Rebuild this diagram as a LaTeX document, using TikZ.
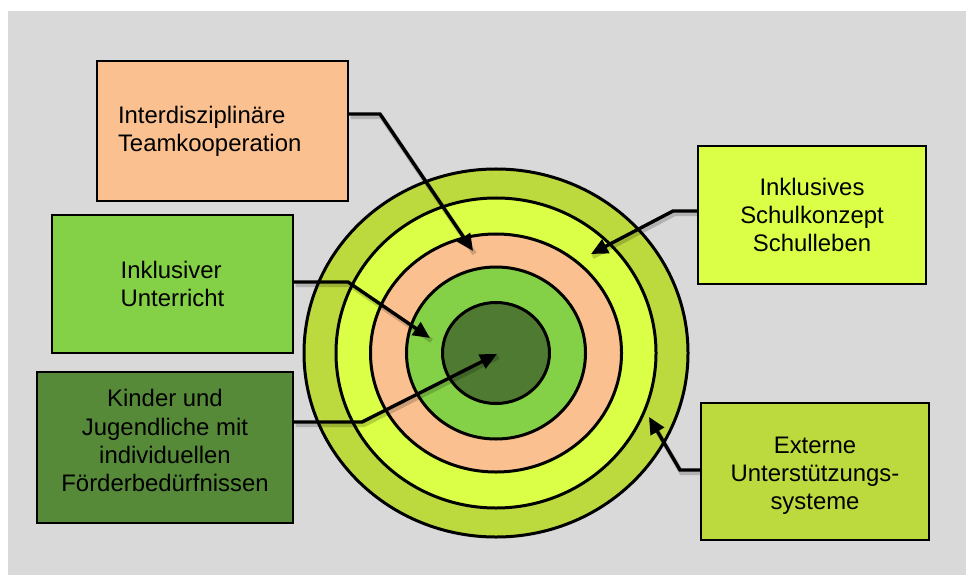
\documentclass[tikz,border=0pt]{standalone}
\usepackage{fontspec}
\setmainfont{Liberation Sans}
\usepackage{xcolor}
\usepackage{tikz}
\usetikzlibrary{arrows.meta,positioning,shapes.geometric}

\definecolor{bggray}{HTML}{D9D9D9}
\definecolor{peach}{HTML}{FAC090}
\definecolor{lime}{HTML}{DAFF46}
\definecolor{olive}{HTML}{BCD93E}
\definecolor{leaf}{HTML}{84D046}
\definecolor{forest}{HTML}{4F7A32}
\definecolor{forestbox}{HTML}{568A39}

\begin{document}
\begin{tikzpicture}[
  x=0.25mm, y=-0.25mm,
  every node/.style={font=\fontsize{17}{20}\selectfont},
  ring/.style={ellipse, draw, line width=0.75mm, inner sep=0pt},
  box/.style={draw, line width=0.5mm, inner sep=0pt},
  arr/.style={-{Triangle[length=4.2mm, width=3.8mm]}, line width=0.85mm,
    preaction={-, draw=black, opacity=0.18, line width=1.2mm,
      transform canvas={shift={(0.4mm,-0.7mm)}}}}
]
\useasboundingbox (0,0) rectangle (966,575);
\fill[bggray] (8,11) rectangle (966,575);

\coordinate (c) at (496,353);
\node[ring, fill=olive, minimum width=96mm, minimum height=92mm] (r5) at (c) {};
\node[ring, fill=lime, minimum width=80mm, minimum height=77.5mm] (r4) at (c) {};
\node[ring, fill=peach, minimum width=62.75mm, minimum height=59.5mm] (r3) at (c) {};
\node[ring, fill=leaf, minimum width=44.75mm, minimum height=43mm] (r2) at (c) {};
\node[ring, fill=forest, minimum width=26.75mm, minimum height=25.25mm] (r1) at (c) {};

\node[box, fill=peach, minimum width=62.75mm, minimum height=35mm, text width=52.25mm, align=left] (team) at (222.5,131) {Interdisziplinäre\\Teamkooperation};
\node[box, fill=leaf, minimum width=60.25mm, minimum height=34.5mm, align=left] (unterricht) at (172.5,284) {Inklusiver\\Unterricht};
\node[box, fill=forestbox, minimum width=64mm, minimum height=37.75mm, align=center, text depth=10pt] (kinder) at (165,447.5) {Kinder und\\Jugendliche mit\\individuellen\\Förderbedürfnissen};
\node[box, fill=lime, minimum width=57mm, minimum height=34.5mm, align=center] (schule) at (812,215) {Inklusives\\Schulkonzept\\Schulleben};
\node[box, fill=olive, minimum width=57mm, minimum height=34.25mm, align=center, text height=58pt] (extern) at (815,471) {Externe\\Unterstützungs-\\systeme};

\coordinate (b1) at (380,114);
\coordinate (t1) at (473,251);
\coordinate (b2) at (348,282);
\coordinate (t2) at (430,338);
\coordinate (b3) at (362,422);
\coordinate (t3) at (497,354);
\coordinate (b4) at (673,211);
\coordinate (t4) at (591,254);
\coordinate (b5) at (680,470);
\coordinate (t5) at (649,417);

\draw[arr] (team.east |- b1) -- (b1) -- (t1);
\draw[arr] (unterricht.east |- b2) -- (b2) -- (t2);
\draw[arr] (kinder.east |- b3) -- (b3) -- (t3);
\draw[arr] (schule.west |- b4) -- (b4) -- (t4);
\draw[arr] (extern.west |- b5) -- (b5) -- (t5);
\end{tikzpicture}
\end{document}
